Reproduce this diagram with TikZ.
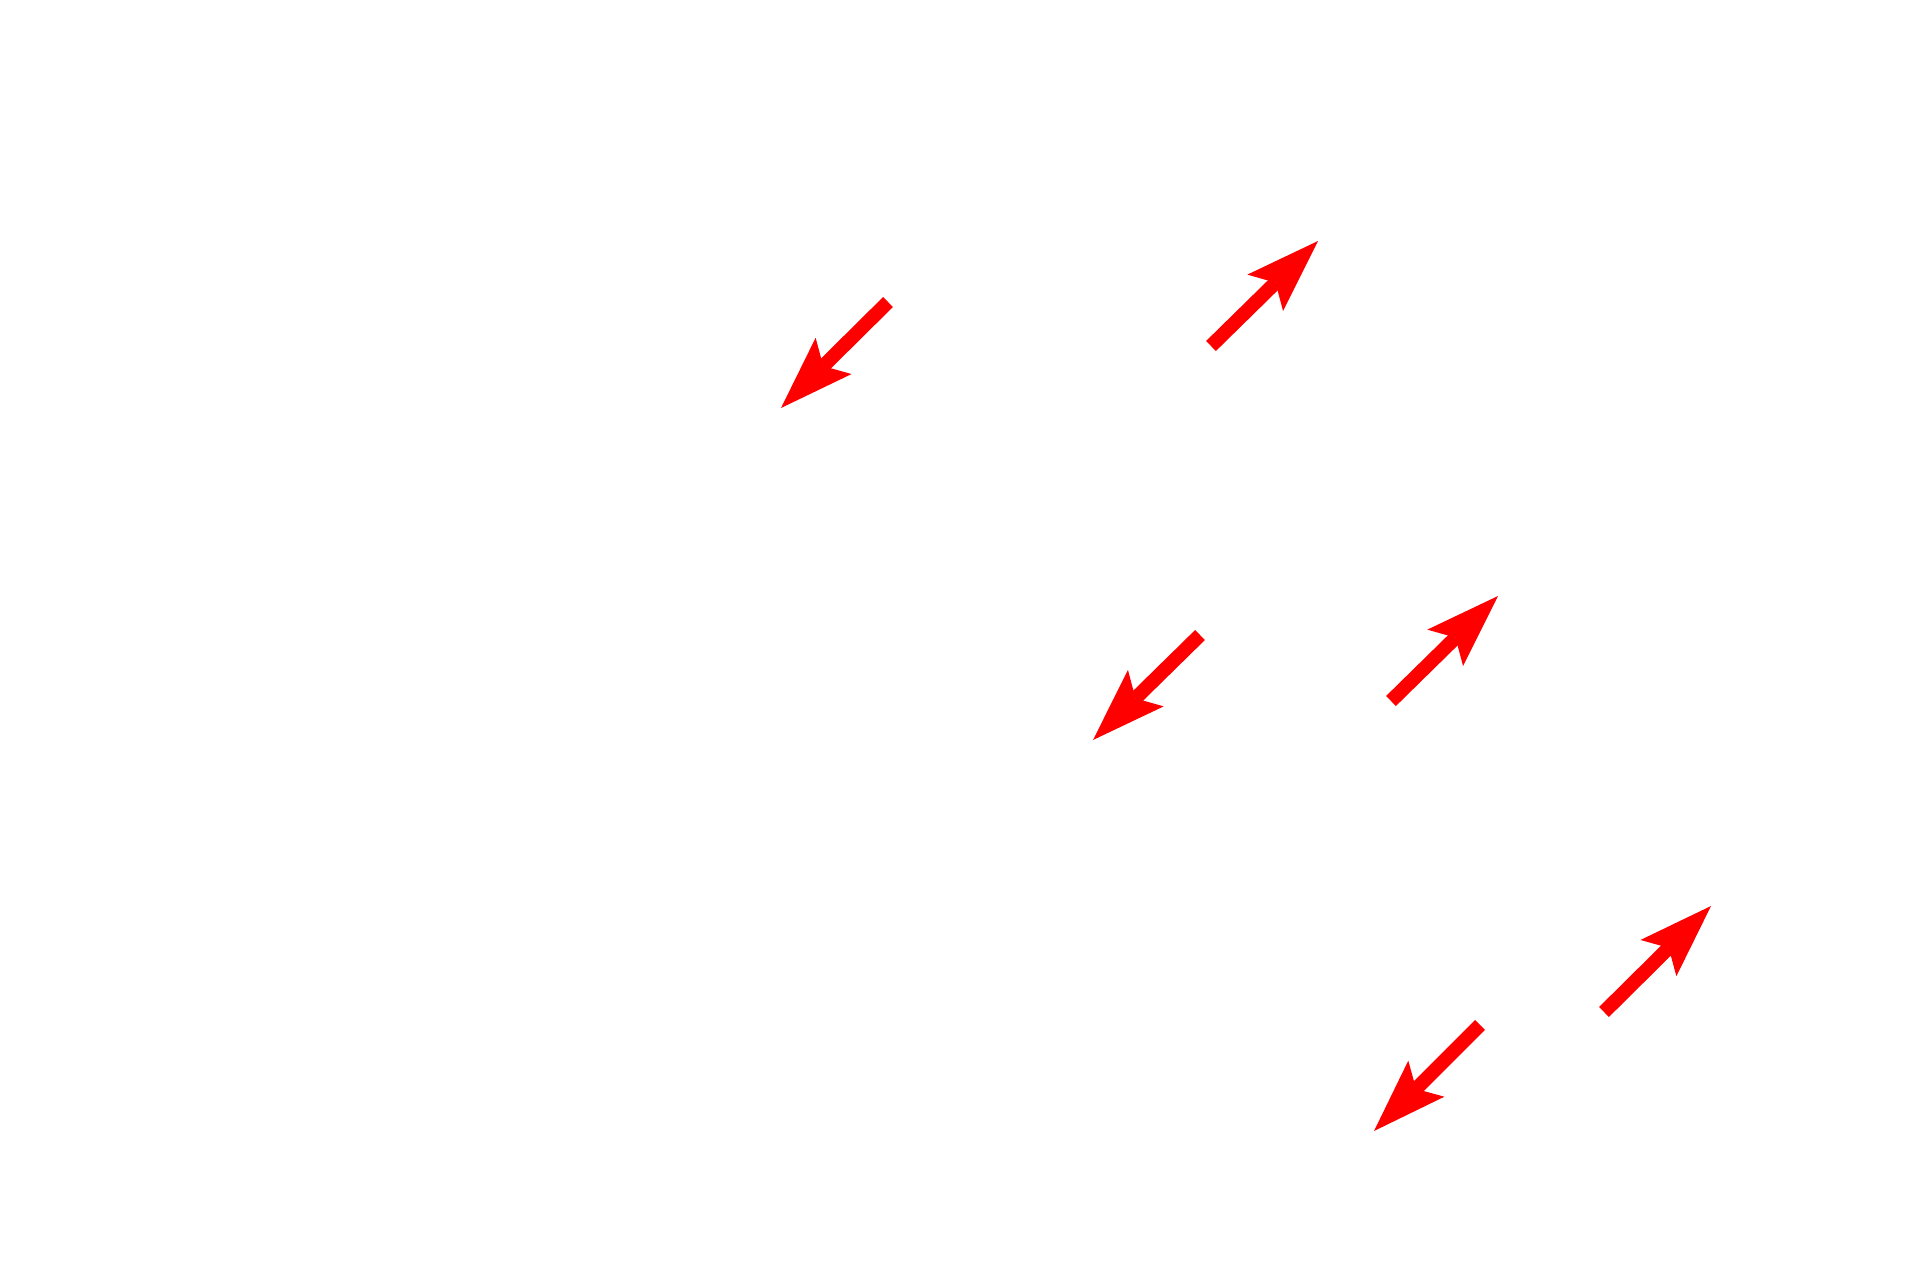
\documentclass[tikz,border=0pt]{standalone}
\usetikzlibrary{arrows.meta}
\begin{document}
\begin{tikzpicture}[x=1pt,y=-1pt,
  redarrow/.style={draw=red,line width=14pt,
    -{Stealth[length=74pt,width=51pt,inset=14.5pt,line width=0pt,fill=red]}}]
\useasboundingbox[fill=white] (0,0) rectangle (1920,1280);
% arrow A
\coordinate (a1) at (888,302);
\coordinate (a2) at (781,408);
% arrow B
\coordinate (b1) at (1211,346);
\coordinate (b2) at (1318,241);
% arrow C
\coordinate (c1) at (1200,635);
\coordinate (c2) at (1093,740);
% arrow D
\coordinate (d1) at (1391,701);
\coordinate (d2) at (1498,596);
% arrow E
\coordinate (e1) at (1480,1025);
\coordinate (e2) at (1374,1131);
% arrow F
\coordinate (f1) at (1604,1012);
\coordinate (f2) at (1711,906);
\draw[redarrow] (a1) -- (a2);
\draw[redarrow] (b1) -- (b2);
\draw[redarrow] (c1) -- (c2);
\draw[redarrow] (d1) -- (d2);
\draw[redarrow] (e1) -- (e2);
\draw[redarrow] (f1) -- (f2);
\end{tikzpicture}
\end{document}
